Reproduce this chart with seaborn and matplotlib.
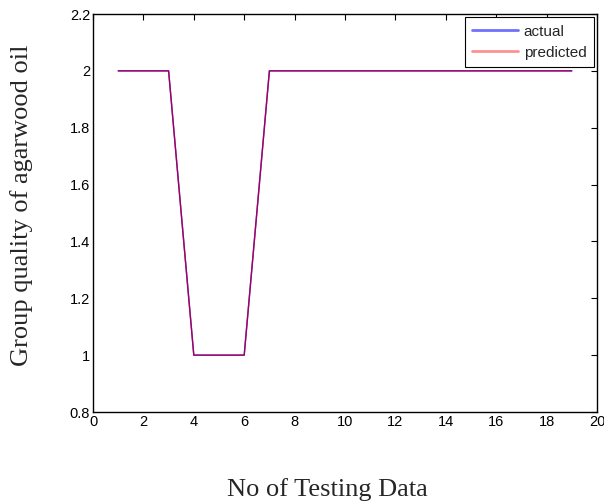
import matplotlib
matplotlib.use("Agg")
import matplotlib.pyplot as plt
import seaborn as sns
import pandas as pd

sample_no = list(range(1, 20))
actual = [2, 2, 2, 1, 1, 1, 2, 2, 2, 2, 2, 2, 2, 2, 2, 2, 2, 2, 2]
predicted = [2, 2, 2, 1, 1, 1, 2, 2, 2, 2, 2, 2, 2, 2, 2, 2, 2, 2, 2]
x_ticks = list(range(0, 21, 2))
y_ticks = [0.8, 1, 1.2, 1.4, 1.6, 1.8, 2, 2.2]
y_tick_labels = ["0.8", "1", "1.2", "1.4", "1.6", "1.8", "2", "2.2"]

sns.set_style("white")
plt.rcParams['font.family'] = ['Liberation Sans', 'DejaVu Sans']

fig = plt.figure(figsize=(6.04, 5.03), dpi=100)
ax = fig.add_axes([93/604, 1 - 412/503, (597-93)/604, (412-14)/503])

df = pd.DataFrame({"x": sample_no, "actual": actual, "predicted": predicted})
sns.lineplot(data=df, x="x", y="actual", ax=ax, color="#0000ff", linewidth=1.0, label="actual")
sns.lineplot(data=df, x="x", y="predicted", ax=ax, color="#ff0000", alpha=0.65, linewidth=1.0, label="predicted")

ax.set_xlim(0, 20)
ax.set_ylim(0.8, 2.2)
ax.set_xticks(x_ticks)
ax.set_yticks(y_ticks)
ax.set_yticklabels(y_tick_labels)
ax.tick_params(direction="in", length=4, width=0.8, top=True, right=True,
               labelsize=10.5, colors="black", pad=2)
for s in ax.spines.values():
    s.set_visible(True)
    s.set_color("black")
    s.set_linewidth(1.0)

ax.set_xlabel("")
ax.set_ylabel("")
fig.text(327/604, 1 - 496/503, "No of Testing Data", family=["Liberation Serif"],
         fontsize=19, ha="center", va="baseline")
fig.text(22/604, 1 - 205/503, "Group quality of agarwood oil", family=["Liberation Serif"],
         fontsize=19, ha="center", va="center", rotation=90)

leg = ax.legend(loc="upper right", fontsize=11, frameon=True, fancybox=False,
                edgecolor="black", borderaxespad=0.2, handlelength=3.0,
                handletextpad=0.35, borderpad=0.5, labelspacing=0.45)
leg.get_frame().set_linewidth(0.8)
leg.get_frame().set_alpha(1)
for h, c in zip(leg.get_lines(), ["#7070ff", "#ff9090"]):
    h.set_color(c)
    h.set_alpha(1)
    h.set_linewidth(2.0)

fig.savefig("out.png", dpi=100)
